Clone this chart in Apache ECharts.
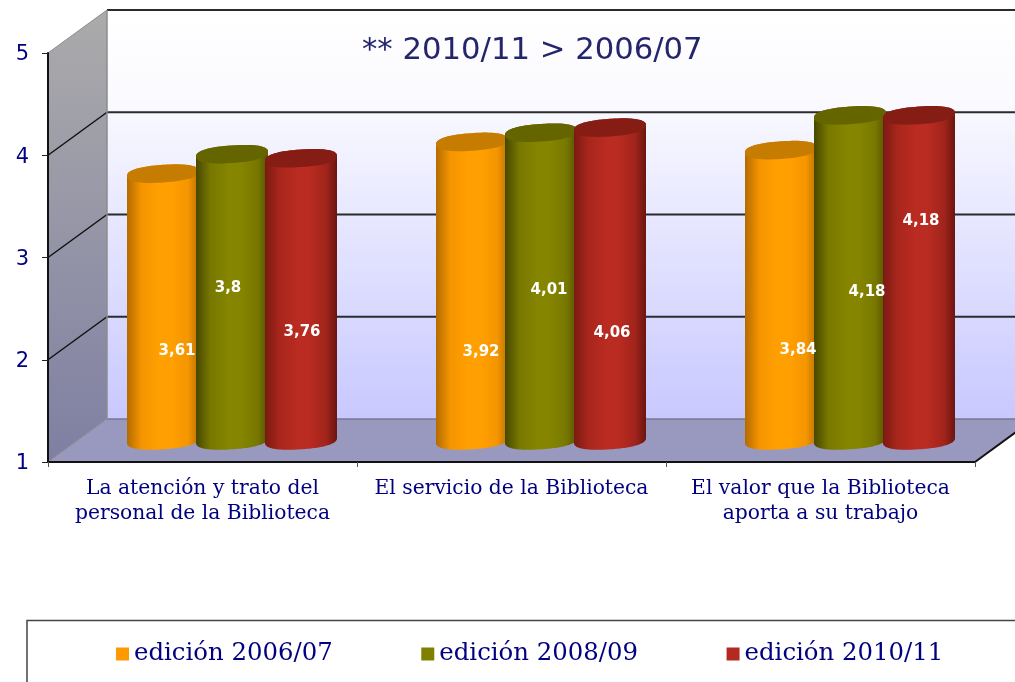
<!DOCTYPE html>
<html>
<head>
<meta charset="utf-8">
<title>Biblioteca</title>
<script src="https://cdn.jsdelivr.net/npm/echarts@6/dist/echarts.min.js"></script>
<style>
  html, body { margin: 0; padding: 0; background: #fff; overflow: hidden; }
  #chart { width: 1015px; height: 682px; }
</style>
</head>
<body>
<div id="chart"></div>
<script>
  // datos
  var categories = ['La atención y trato del\npersonal de la Biblioteca', 'El servicio de la Biblioteca', 'El valor que la Biblioteca\naporta a su trabajo'];
  var yTicks = [1, 2, 3, 4, 5];
  var ed200607 = [3.61, 3.92, 3.84];
  var ed200809 = [3.8, 4.01, 4.18];
  var ed201011 = [3.76, 4.06, 4.18];

  // etiquetas colocadas a mano en el original (px desde el centro de la base)
  var labelShiftX = [[14, 9, 17], [-4, 8, 17], [1, 2, 2]];
  var labelShiftY = [[-89, -88, -90], [-152, -150, -148], [-108, -107, -219]];

  // profundidad del falso 3D
  var depthX = 59, depthY = -43;
  var barPitch = 69, barRx = 36, barRy = 8.8, barTilt = 2.4, barRound = 0.85;

  var chart = echarts.init(document.getElementById('chart'));

  function grad(stops, x2, y2) {
    return new echarts.graphic.LinearGradient(0, 0, x2, y2, stops);
  }

  function renderWalls(params, api) {
    var cs = params.coordSys;
    var v = api.value(0);
    var y = api.coord([0, v])[1];
    var left = cs.x, right = cs.x + cs.width, bottom = cs.y + cs.height, top = cs.y;
    var soft = v === 1 || v === 5;
    var children = [];
    if (params.dataIndex === 0) {
      children.push({
        type: 'polygon', z2: 1,
        shape: {points: [[left + depthX, top + depthY], [right + depthX, top + depthY], [right + depthX, bottom + depthY], [left + depthX, bottom + depthY]]},
        style: {fill: grad([{offset: 0, color: '#ffffff'}, {offset: 0.2, color: '#fbfbff'}, {offset: 1, color: '#c8c8ff'}], 0, 1)}
      }, {
        type: 'polygon', z2: 1,
        shape: {points: [[left, top], [left + depthX, top + depthY], [left + depthX, bottom + depthY], [left, bottom]]},
        style: {fill: grad([{offset: 0, color: '#ababab'}, {offset: 1, color: '#7f7fa3'}], 0, 1)}
      }, {
        type: 'polygon', z2: 1,
        shape: {points: [[left, bottom], [right, bottom], [right + depthX, bottom + depthY], [left + depthX, bottom + depthY]]},
        style: {fill: '#9999c0'}
      }, {
        type: 'line', z2: 3,
        shape: {x1: left + depthX, y1: top + depthY, x2: left + depthX, y2: bottom + depthY},
        style: {stroke: '#8c8c8c', lineWidth: 1.5}
      }, {
        type: 'line', z2: 3,
        shape: {x1: right, y1: bottom, x2: right + depthX, y2: bottom + depthY},
        style: {stroke: '#111', lineWidth: 2}
      });
    }
    children.push({
      type: 'line', z2: 2,
      shape: {x1: left, y1: y, x2: left + depthX, y2: y + depthY},
      style: {stroke: soft ? '#8c8c8c' : '#111', lineWidth: soft ? 1 : 1.5}
    }, {
      type: 'line', z2: 2,
      shape: {x1: left + depthX, y1: y + depthY, x2: right + depthX, y2: y + depthY},
      style: {stroke: v === 1 ? '#77778f' : '#2b2b2b', lineWidth: v === 1 ? 1.5 : 2}
    });
    return {type: 'group', children: children};
  }

  function signedPow(n) {
    return (n < 0 ? -1 : 1) * Math.pow(Math.abs(n), barRound);
  }

  // cilindro: elipse algo redondeada e inclinada, arriba y abajo
  function ellipsePoints(cx, cy, from, to) {
    var pts = [];
    for (var i = 0; i <= 72; i++) {
      var t = from + (to - from) * i / 72;
      var c = signedPow(Math.cos(t)), s = signedPow(Math.sin(t));
      pts.push([cx + barRx * c, cy + barRy * s - barTilt * c]);
    }
    return pts;
  }

  function cylinderRenderer(idx, side, mid, lid) {
    return function (params, api) {
      var cat = api.value(0), val = api.value(1);
      var p = api.coord([cat, val]);
      var base = api.coord([cat, 1]);
      var cx = p[0] + depthX / 2 + (idx - 1) * barPitch;
      var topY = p[1] + depthY / 2;
      var baseY = base[1] + depthY / 2;
      // cuerpo: arco inferior de derecha a izquierda, luego arco superior de vuelta
      var body = ellipsePoints(cx, baseY, 0, Math.PI).concat(ellipsePoints(cx, topY, Math.PI, 2 * Math.PI));
      return {
        type: 'group',
        children: [{
          type: 'polygon', z2: 10 + idx * 2,
          shape: {points: body},
          style: {fill: grad([{offset: 0, color: side[0]}, {offset: 0.2, color: side[2]}, {offset: 0.45, color: mid}, {offset: 0.62, color: mid}, {offset: 0.85, color: side[3]}, {offset: 1, color: side[1]}], 1, 0)}
        }, {
          type: 'polygon', z2: 11 + idx * 2,
          shape: {points: ellipsePoints(cx, topY, 0, 2 * Math.PI)},
          style: {fill: lid}
        }, {
          type: 'text', z2: 100,
          x: cx + labelShiftX[idx][params.dataIndex],
          y: baseY + labelShiftY[idx][params.dataIndex],
          style: {
            text: String(val).replace('.', ','),
            fill: '#fff',
            font: 'bold 15px "DejaVu Sans"',
            textAlign: 'center',
            textVerticalAlign: 'middle'
          }
        }]
      };
    };
  }

  function toData(values) {
    return values.map(function (v, i) { return [i, v]; });
  }

  chart.setOption({
    animation: false,
    title: {
      text: '** 2010/11 > 2006/07',
      left: 357, top: 31,
      textStyle: {color: '#25256e', fontFamily: 'DejaVu Sans', fontWeight: 'normal', fontSize: 30.7}
    },
    legend: {
      data: ['edición 2006/07', 'edición 2008/09', 'edición 2010/11'],
      left: 111, top: 637,
      icon: 'rect',
      itemWidth: 13, itemHeight: 13,
      itemGap: 88.5,
      textStyle: {color: '#000080', fontFamily: 'DejaVu Serif', fontSize: 24.4}
    },
    grid: {left: 48, right: 40, top: 53, bottom: 220, containLabel: false},
    xAxis: {
      type: 'category',
      data: categories,
      z: 5,
      axisLine: {lineStyle: {color: '#111', width: 2}},
      axisTick: {show: true, length: 5, lineStyle: {color: '#555', width: 1}},
      axisLabel: {interval: 0, margin: 14, lineHeight: 25, color: '#000080', fontFamily: 'DejaVu Serif', fontSize: 20.3}
    },
    yAxis: {
      type: 'value',
      min: 1, max: 5, interval: 1,
      z: 5,
      axisLine: {show: true, lineStyle: {color: '#111', width: 2}},
      axisTick: {show: true, length: 6, lineStyle: {color: '#222', width: 1}},
      splitLine: {show: false},
      axisLabel: {margin: 19, verticalAlign: 'top', lineHeight: 4, color: '#000080', fontFamily: 'DejaVu Sans', fontSize: 21}
    },
    graphic: [{
      type: 'rect',
      silent: true,
      shape: {x: 27, y: 620.5, width: 1100, height: 200},
      style: {fill: 'none', stroke: '#444', lineWidth: 1.5}
    }],
    series: [{
      type: 'custom', name: 'paredes', silent: true, z: 1,
      renderItem: renderWalls,
      encode: {y: 0},
      data: yTicks.map(function (v) { return [v]; })
    }, {
      type: 'custom', name: 'edición 2006/07', silent: true, z: 2,
      itemStyle: {color: '#ff9900'},
      renderItem: cylinderRenderer(0, ['#b36b00', '#b87400', '#f59500', '#f59500'], '#ff9f00', '#c67c00'),
      encode: {x: 0, y: 1},
      data: toData(ed200607)
    }, {
      type: 'custom', name: 'edición 2008/09', silent: true, z: 2,
      itemStyle: {color: '#808000'},
      renderItem: cylinderRenderer(1, ['#474700', '#555500', '#787800', '#787800'], '#858500', '#656500'),
      encode: {x: 0, y: 1},
      data: toData(ed200809)
    }, {
      type: 'custom', name: 'edición 2010/11', silent: true, z: 2,
      itemStyle: {color: '#b22a20'},
      renderItem: cylinderRenderer(2, ['#7a1a12', '#6b150f', '#a8261c', '#a0241b'], '#ba2b21', '#861d15'),
      encode: {x: 0, y: 1},
      data: toData(ed201011)
    }]
  });
</script>
</body>
</html>
